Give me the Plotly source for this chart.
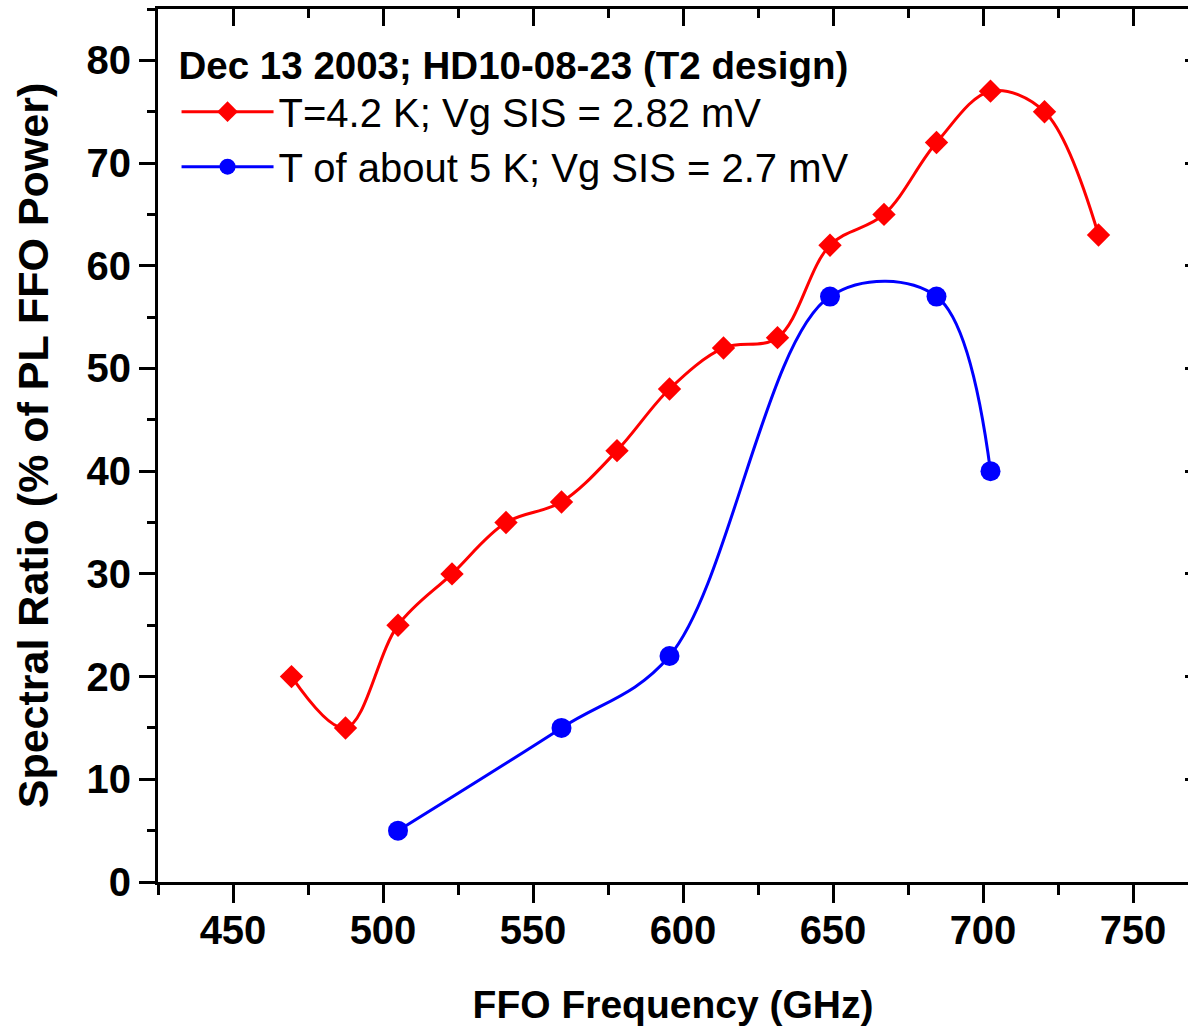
import plotly.graph_objects as go

# ---- data ----
red_freq = [469.5, 487.5, 505, 523, 541, 559.5, 578, 595.5, 613.5, 631.5, 649, 667, 684.5, 702.5, 720.5, 738.5]
red_ratio = [20, 15, 25, 30, 35, 37, 42, 48, 52, 53, 62, 65, 72, 77, 75, 63]
blue_freq = [505, 559.5, 595.5, 649, 684.5, 702.5]
blue_ratio = [5, 15, 22, 57, 57, 40]

red_name = "T=4.2 K; Vg SIS = 2.82 mV"
blue_name = "T of about 5 K; Vg SIS = 2.7 mV"
legend_title = "Dec 13 2003; HD10-08-23 (T2 design)"
x_title = "FFO Frequency (GHz)"
y_title = "Spectral Ratio (% of PL FFO Power)"
x_ticks = [450, 500, 550, 600, 650, 700, 750]
y_ticks = [0, 10, 20, 30, 40, 50, 60, 70, 80]

FONT = "Liberation Sans, Arial, sans-serif"
RED = "#FF0000"
BLUE = "#0000FF"

fig = go.Figure()
fig.add_trace(go.Scatter(
    x=red_freq, y=red_ratio, name=red_name, mode="lines+markers",
    line=dict(color=RED, width=3, shape="spline", smoothing=1.0),
    marker=dict(symbol="diamond", size=18, color=RED),
))
fig.add_trace(go.Scatter(
    x=blue_freq, y=blue_ratio, name=blue_name, mode="lines+markers",
    line=dict(color=BLUE, width=3, shape="spline", smoothing=1.0),
    marker=dict(symbol="circle", size=20, color=BLUE),
))
# invisible trace to bring the mirrored (top/right) axes to life
fig.add_trace(go.Scatter(
    x=red_freq, y=red_ratio, xaxis="x2", yaxis="y2", mode="markers",
    marker=dict(opacity=0), showlegend=False, hoverinfo="skip",
))

xr = [425, 425 + 1030 / 3]
yr = [0, 85]

fig.update_layout(
    width=1188, height=1030,
    margin=dict(l=158, r=0, t=9, b=148),
    paper_bgcolor="white", plot_bgcolor="white",
    font=dict(family=FONT, color="black"),
    showlegend=True,
    legend=dict(
        x=0.018, y=0.977, xanchor="left", yanchor="top",
        bgcolor="rgba(0,0,0,0)", borderwidth=0,
        font=dict(family=FONT, size=40, color="black"),
        title=dict(text=legend_title, font=dict(family=FONT, size=38.5, color="black", weight="bold")),
        itemwidth=92, tracegroupgap=0,
    ),
    xaxis=dict(
        range=xr, tickvals=x_ticks, showgrid=False, zeroline=False,
        showline=True, linecolor="black", linewidth=3,
        ticks="outside", ticklen=18, tickwidth=2.5, tickcolor="black",
        minor=dict(tickvals=[425, 475, 525, 575, 625, 675, 725], ticks="outside",
                   ticklen=10, tickwidth=2.5, tickcolor="black"),
        tickfont=dict(family=FONT, size=40, color="black", weight="bold"),
        ticklabelstandoff=-7,
        title=dict(text=x_title, font=dict(family=FONT, size=39, color="black", weight="bold"), standoff=40),
    ),
    yaxis=dict(
        range=yr, tickvals=y_ticks, showgrid=False, zeroline=False,
        showline=True, linecolor="black", linewidth=3,
        ticks="outside", ticklen=16, tickwidth=2.5, tickcolor="black",
        minor=dict(tickvals=[5, 15, 25, 35, 45, 55, 65, 75, 85], ticks="outside",
                   ticklen=8, tickwidth=2.5, tickcolor="black"),
        tickfont=dict(family=FONT, size=40, color="black", weight="bold"),
        ticklabelstandoff=0,
        title=dict(text=y_title, font=dict(family=FONT, size=43, color="black", weight="bold"), standoff=25),
    ),
    xaxis2=dict(
        overlaying="x", side="top", anchor="y2", range=xr, tickvals=x_ticks,
        showgrid=False, zeroline=False, showticklabels=False,
        showline=True, linecolor="black", linewidth=3,
        ticks="inside", ticklen=17, tickwidth=2.5, tickcolor="black",
        minor=dict(tickvals=[425, 475, 525, 575, 625, 675, 725], ticks="inside",
                   ticklen=9, tickwidth=2.5, tickcolor="black"),
    ),
    yaxis2=dict(
        overlaying="y", side="right", anchor="x2", range=yr, tickvals=y_ticks,
        showgrid=False, zeroline=False, showticklabels=False, showline=False,
        ticks="inside", ticklen=3, tickwidth=2.5, tickcolor="black",
    ),
)

fig.write_html("out.html")
